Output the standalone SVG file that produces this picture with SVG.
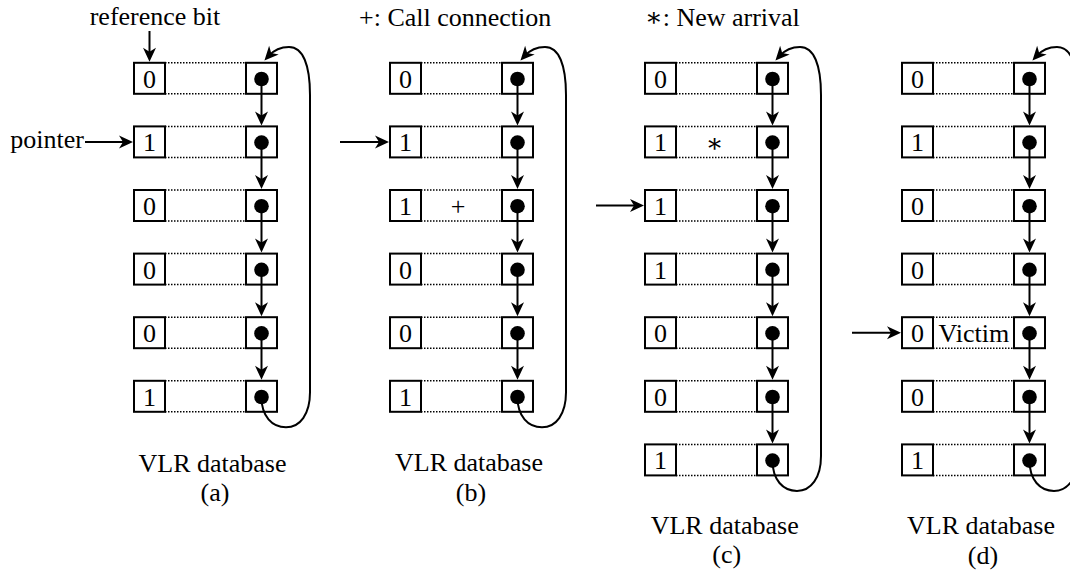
<svg xmlns="http://www.w3.org/2000/svg" width="1070" height="582" viewBox="0 0 1070 582">
<defs>
<style>
.box{fill:#fff;stroke:#000;stroke-width:2}
.dot{fill:#000}
.dl{stroke:#000;stroke-width:1.5;stroke-dasharray:1.5 1.5;fill:none}
.ar{stroke:#000;stroke-width:2;fill:none;marker-end:url(#ah)}
text{font-family:"Liberation Serif","Times New Roman","DejaVu Serif",serif;font-size:26px;fill:#000}
.d{text-anchor:middle}
.m{text-anchor:middle}
</style>
<marker id="ah" viewBox="-15 -8 16 16" refX="-6" refY="0" markerWidth="16" markerHeight="16" orient="auto" markerUnits="userSpaceOnUse">
<path d="M0,0 L-14,-6.5 L-10,0 L-14,6.5 Z" fill="#000"/>
</marker>
<g id="row">
<path class="dl" d="M165,62.8 H246 M165,93.8 H246"/>
<rect class="box" x="134" y="62.8" width="31" height="31"/>
<rect class="box" x="246" y="62.8" width="31" height="31"/>
<circle class="dot" cx="261.5" cy="79" r="7.3"/>
</g>
</defs>

<!-- Panel (a) -->
<g id="panel-a">
<g id="a-r0"><use href="#row" y="0"/><text class="d" x="149.5" y="87.8">0</text></g>
<g id="a-r1"><use href="#row" y="63.6"/><text class="d" x="149.5" y="151.4">1</text></g>
<g id="a-r2"><use href="#row" y="127.2"/><text class="d" x="149.5" y="215">0</text></g>
<g id="a-r3"><use href="#row" y="190.8"/><text class="d" x="149.5" y="278.6">0</text></g>
<g id="a-r4"><use href="#row" y="254.4"/><text class="d" x="149.5" y="342.2">0</text></g>
<g id="a-r5"><use href="#row" y="318"/><text class="d" x="149.5" y="405.8">1</text></g>
</g>

<!-- Panel (b) -->
<g id="panel-b" transform="translate(256,0)">
<g id="b-r0"><use href="#row" y="0"/><text class="d" x="149.5" y="87.8">0</text></g>
<g id="b-r1"><use href="#row" y="63.6"/><text class="d" x="149.5" y="151.4">1</text></g>
<g id="b-r2"><use href="#row" y="127.2"/><text class="d" x="149.5" y="215">1</text><text class="m" x="202" y="215">+</text></g>
<g id="b-r3"><use href="#row" y="190.8"/><text class="d" x="149.5" y="278.6">0</text></g>
<g id="b-r4"><use href="#row" y="254.4"/><text class="d" x="149.5" y="342.2">0</text></g>
<g id="b-r5"><use href="#row" y="318"/><text class="d" x="149.5" y="405.8">1</text></g>
</g>

<!-- Panel (c) -->
<g id="panel-c" transform="translate(511,0)">
<g id="c-r0"><use href="#row" y="0"/><text class="d" x="149.5" y="87.8">0</text></g>
<g id="c-r1"><use href="#row" y="63.6"/><text class="d" x="149.5" y="151.4">1</text><text class="m" x="203.5" y="151.5">∗</text></g>
<g id="c-r2"><use href="#row" y="127.2"/><text class="d" x="149.5" y="215">1</text></g>
<g id="c-r3"><use href="#row" y="190.8"/><text class="d" x="149.5" y="278.6">1</text></g>
<g id="c-r4"><use href="#row" y="254.4"/><text class="d" x="149.5" y="342.2">0</text></g>
<g id="c-r5"><use href="#row" y="318"/><text class="d" x="149.5" y="405.8">0</text></g>
<g id="c-r6"><use href="#row" y="381.6"/><text class="d" x="149.5" y="469.4">1</text></g>
</g>

<!-- Panel (d) -->
<g id="panel-d" transform="translate(768,0)">
<g id="d-r0"><use href="#row" y="0"/><text class="d" x="149.5" y="87.8">0</text></g>
<g id="d-r1"><use href="#row" y="63.6"/><text class="d" x="149.5" y="151.4">1</text></g>
<g id="d-r2"><use href="#row" y="127.2"/><text class="d" x="149.5" y="215">0</text></g>
<g id="d-r3"><use href="#row" y="190.8"/><text class="d" x="149.5" y="278.6">0</text></g>
<g id="d-r4"><use href="#row" y="254.4"/><text class="d" x="149.5" y="342.2">0</text><text x="170.5" y="342.2">Victim</text></g>
<g id="d-r5"><use href="#row" y="318"/><text class="d" x="149.5" y="405.8">0</text></g>
<g id="d-r6"><use href="#row" y="381.6"/><text class="d" x="149.5" y="469.4">1</text></g>
</g>

<!-- Connectors -->
<g id="connectors">
<g transform="translate(0,0)">
<path class="ar" d="M261.5,79 V119.4"/>
<path class="ar" d="M261.5,142.6 V183"/>
<path class="ar" d="M261.5,206.2 V246.6"/>
<path class="ar" d="M261.5,269.8 V310.2"/>
<path class="ar" d="M261.5,333.4 V373.8"/>
<path class="ar" d="M261.5,397 C261.5,416.3 272,427.3 286,427.3 C300,427.3 310,414.3 310,392.3 L310,95 C310,65 303,47 289,47 C281,47 274,50 268.5,56"/>
<path class="ar" d="M149.5,31 V55.8"/>
<path class="ar" d="M85,141.9 H127"/>
</g>
<g transform="translate(256,0)">
<path class="ar" d="M261.5,79 V119.4"/>
<path class="ar" d="M261.5,142.6 V183"/>
<path class="ar" d="M261.5,206.2 V246.6"/>
<path class="ar" d="M261.5,269.8 V310.2"/>
<path class="ar" d="M261.5,333.4 V373.8"/>
<path class="ar" d="M261.5,397 C261.5,416.3 272,427.3 286,427.3 C300,427.3 310,414.3 310,392.3 L310,95 C310,65 303,47 289,47 C281,47 274,50 268.5,56"/>
<path class="ar" d="M84,141.9 H127"/>
</g>
<g transform="translate(511,0)">
<path class="ar" d="M261.5,79 V119.4"/>
<path class="ar" d="M261.5,142.6 V183"/>
<path class="ar" d="M261.5,206.2 V246.6"/>
<path class="ar" d="M261.5,269.8 V310.2"/>
<path class="ar" d="M261.5,333.4 V373.8"/>
<path class="ar" d="M261.5,397 V437.4"/>
<path class="ar" d="M261.5,460.6 C261.5,479.9 272,490.9 286,490.9 C300,490.9 310,477.9 310,455.9 L310,95 C310,65 303,47 289,47 C281,47 274,50 268.5,56"/>
<path class="ar" d="M85,205.5 H127"/>
</g>
<g transform="translate(768,0)">
<path class="ar" d="M261.5,79 V119.4"/>
<path class="ar" d="M261.5,142.6 V183"/>
<path class="ar" d="M261.5,206.2 V246.6"/>
<path class="ar" d="M261.5,269.8 V310.2"/>
<path class="ar" d="M261.5,333.4 V373.8"/>
<path class="ar" d="M261.5,397 V437.4"/>
<path class="ar" d="M261.5,460.6 C261.5,479.9 272,490.9 286,490.9 C300,490.9 310,477.9 310,455.9 L310,95 C310,65 303,47 289,47 C281,47 274,50 268.5,56"/>
<path class="ar" d="M84,332.7 H127"/>
</g>
</g>

<!-- Labels -->
<g id="labels">
<text x="155" y="25" text-anchor="middle">reference bit</text>
<text x="84" y="147.5" text-anchor="end">pointer</text>
<text x="359" y="26">+: Call connection</text>
<text x="645" y="26">∗: New arrival</text>
<text x="212.5" y="471.5" text-anchor="middle">VLR database</text>
<text x="215" y="501" text-anchor="middle">(a)</text>
<text x="469" y="471" text-anchor="middle">VLR database</text>
<text x="471" y="501" text-anchor="middle">(b)</text>
<text x="724.7" y="534" text-anchor="middle">VLR database</text>
<text x="726.7" y="563" text-anchor="middle">(c)</text>
<text x="981" y="533.5" text-anchor="middle">VLR database</text>
<text x="983" y="564" text-anchor="middle">(d)</text>
</g>
</svg>
